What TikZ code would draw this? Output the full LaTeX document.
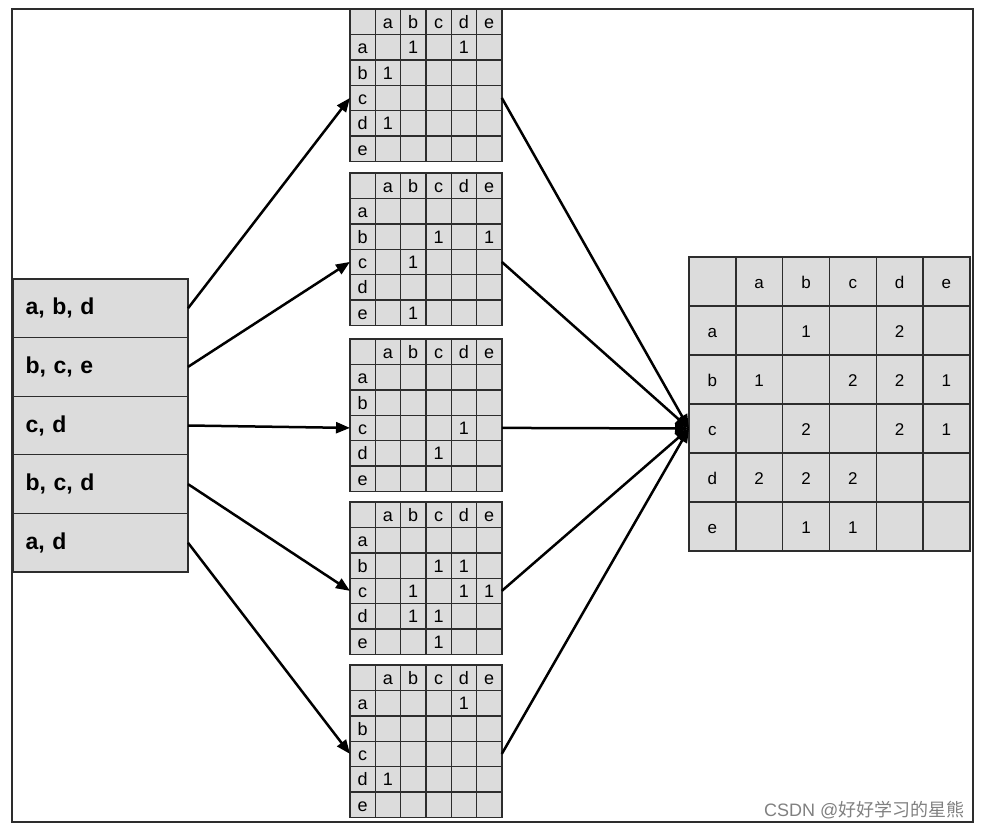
\documentclass[tikz,border=0pt]{standalone}
\usepackage{fontspec}
\setmainfont{Liberation Sans}
\newfontfamily\cjk{Noto Sans CJK SC}
\usetikzlibrary{positioning,arrows.meta}

\definecolor{cellgray}{RGB}{220,220,220}
\definecolor{linegray}{RGB}{45,45,45}

% adjacency table: name, left x, top y, cell width, cell height
\newcommand{\adjtable}[5]{%
  \foreach \i in {0,...,5}
    \foreach \j in {0,...,5}
      \node[cell, minimum width=#4pt, minimum height=#5pt] (#1-\i-\j) at ({#2+\j*#4},{#3+\i*#5}) {};
  \foreach \l [count=\k] in {a,b,c,d,e} {
    \node[val] at (#1-0-\k) {\l};
    \node[val] at (#1-\k-0) {\l};
  }
}

\begin{document}
\begin{tikzpicture}[x=1pt, y=-1pt, >={Stealth[length=14pt,width=11pt,inset=0pt]},
    font=\fontsize{18}{21}\selectfont,
    cell/.style={draw=linegray, fill=cellgray, line width=1.4pt, anchor=north west, inner sep=0pt, outer sep=0pt},
    val/.style={inner sep=0pt, text height=13pt, text depth=0pt},
    item/.style={draw=linegray, fill=cellgray, line width=1.3pt, minimum width=175pt, minimum height=58.6pt,
        text width=150pt, align=left, inner xsep=12pt, outer sep=0pt, font=\fontsize{23}{26}\selectfont\bfseries},
    link/.style={->, line width=2.5pt}]

\useasboundingbox (0,0) rectangle (983,830);
\draw[linegray, line width=1.6pt] (12,9) rectangle (973,822);

% Transactions
\node[item, anchor=north west] (b1) at (13,279) {a, b, d};
\node[item, below=0pt of b1] (b2) {b, c, e};
\node[item, below=0pt of b2] (b3) {c, d};
\node[item, below=0pt of b3] (b4) {b, c, d};
\node[item, below=0pt of b4] (b5) {a, d};

% Single tables
\adjtable{t1}{350}{9}{25.3}{25.4}
\adjtable{t2}{350}{173}{25.3}{25.4}
\adjtable{t3}{350}{339}{25.3}{25.4}
\adjtable{t4}{350}{502}{25.3}{25.4}
\adjtable{t5}{350}{665}{25.3}{25.4}
\foreach \r/\c in {1/2,1/4,2/1,4/1} \node[val] at (t1-\r-\c) {1};
\foreach \r/\c in {2/3,2/5,3/2,5/2} \node[val] at (t2-\r-\c) {1};
\foreach \r/\c in {3/4,4/3} \node[val] at (t3-\r-\c) {1};
\foreach \r/\c in {2/3,2/4,3/2,3/4,3/5,4/2,4/3,5/3} \node[val] at (t4-\r-\c) {1};
\foreach \r/\c in {1/4,4/1} \node[val] at (t5-\r-\c) {1};

% Sum table
\begin{scope}[font=\fontsize{17}{20}\selectfont]
\adjtable{all}{689}{257}{46.8}{49}
\foreach \r/\c/\v in {1/2/1,1/4/2,2/1/1,2/3/2,2/4/2,2/5/1,3/2/2,3/4/2,3/5/1,
    4/1/2,4/2/2,4/3/2,5/2/1,5/3/1}
  \node[val] at (all-\r-\c) {\v};
\end{scope}

% Links
\foreach \n in {1,...,5} \draw[link] (b\n.east) -- (t\n-3-0.west);
\foreach \n in {1,...,5} \draw[link] (t\n-3-5.east) -- (all-3-0.west);

\node[anchor=base east, text=gray, font=\fontsize{18}{20}\selectfont] (mark) at (968,816) {CSDN @{\cjk 好好学习的星熊}};

\end{tikzpicture}
\end{document}
